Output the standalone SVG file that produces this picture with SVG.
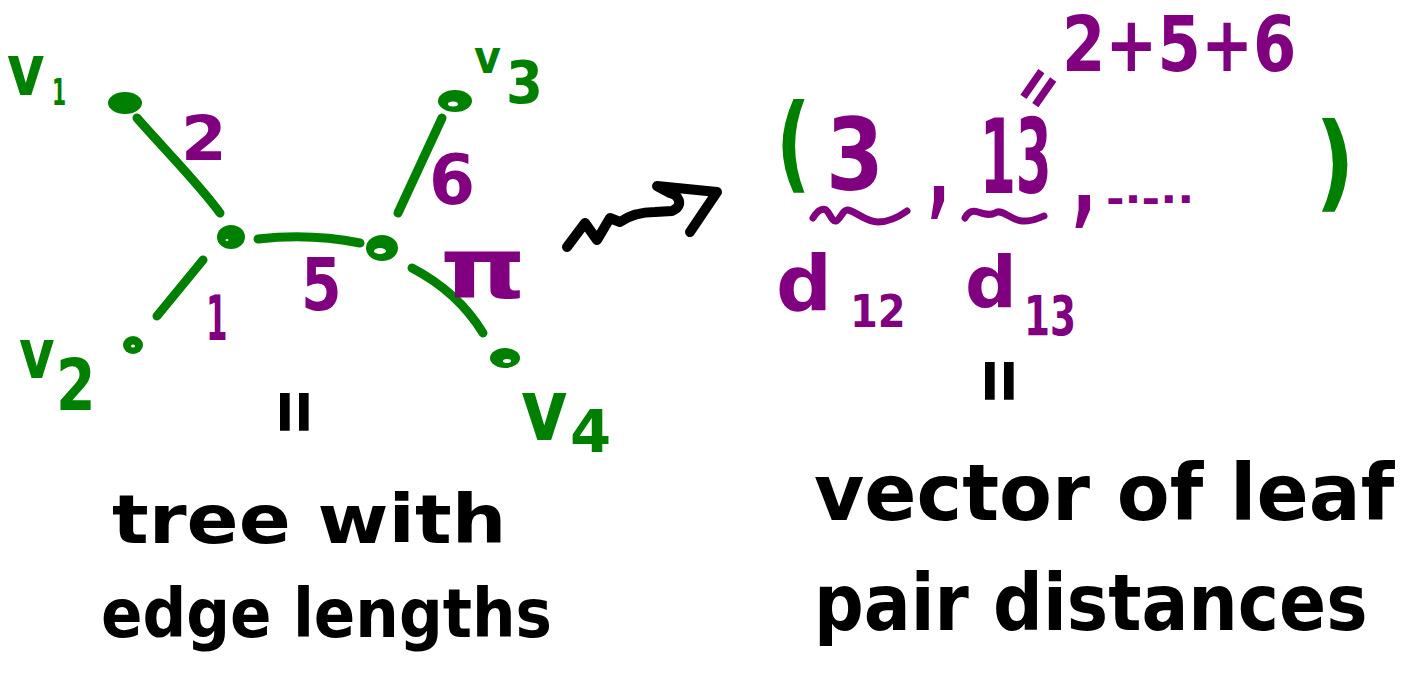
<svg xmlns="http://www.w3.org/2000/svg" width="1412" height="673" viewBox="0 0 1412 673">
<style>
text{font-family:"DejaVu Sans","Liberation Sans",sans-serif;font-weight:bold}
.g{fill:#008000}
.p{fill:#800080}
.k{fill:#000}
.hole{fill:#fff}
.edge{stroke:#008000;stroke-width:9;stroke-linecap:round;fill:none}
.pl{stroke:#800080;stroke-width:7;stroke-linecap:round;stroke-linejoin:round;fill:none}
.bl{stroke:#000;stroke-width:10;stroke-linecap:round;stroke-linejoin:round;fill:none}
</style>
<rect width="1412" height="673" fill="#fff"/>
<g id="connectors">
<path class="edge" d="M137,118 C165,150 200,185 220,213"/>
<path class="edge" d="M203,260 L157,316"/>
<path class="edge" d="M258,239 Q310,233 360,243"/>
<path class="edge" d="M442,118 L398,213"/>
<path class="edge" d="M412,268 Q458,292 483,333"/>
</g>
<g id="v1">
<ellipse class="g" cx="125" cy="103" rx="17" ry="11"/>
<text class="g" font-size="72" transform="translate(7,95) scale(0.8,1)">v</text>
<text class="g" font-size="37" transform="translate(52,105) scale(0.55,1)">1</text>
</g>
<g id="v2">
<ellipse class="g" cx="133" cy="345" rx="10" ry="9"/>
<ellipse class="hole" cx="133" cy="346" rx="2" ry="1.5"/>
<text class="g" font-size="70" transform="translate(19,378) scale(0.78,1)">v</text>
<text class="g" font-size="71" transform="translate(56,410) scale(0.8,1)">2</text>
</g>
<g id="v3">
<ellipse class="g" cx="455" cy="101" rx="17" ry="11"/>
<ellipse class="hole" cx="453" cy="104" rx="5" ry="2.5"/>
<text class="g" font-size="47" transform="translate(474,73) scale(0.88,1)">v</text>
<text class="g" font-size="59" transform="translate(506,103) scale(0.9,1)">3</text>
</g>
<g id="v4">
<ellipse class="g" cx="505" cy="358" rx="15" ry="10"/>
<ellipse class="hole" cx="507" cy="361" rx="4" ry="2"/>
<text class="g" font-size="85" transform="translate(521,440) scale(0.84,1)">v</text>
<text class="g" font-size="58" transform="translate(570,452) scale(1.02,1)">4</text>
</g>
<g id="nodeA">
<ellipse class="g" cx="231" cy="237" rx="14" ry="12"/>
<ellipse class="hole" cx="227" cy="240" rx="1.5" ry="1"/>
</g>
<g id="nodeB">
<ellipse class="g" cx="382" cy="248" rx="16" ry="13"/>
<ellipse class="hole" cx="380" cy="251" rx="6" ry="3"/>
</g>
<g id="edge-labels">
<text class="p" font-size="62" transform="translate(181,160) scale(1.06,1)">2</text>
<text class="p" font-size="62" transform="translate(206,340) scale(0.5,1)">1</text>
<text class="p" font-size="73" transform="translate(301,310) scale(0.8,1)">5</text>
<text class="p" font-size="69" transform="translate(429,204) scale(0.96,1)">6</text>
<text class="p" font-size="84" transform="translate(440,298) scale(1.3,1)">π</text>
</g>
<g id="eq-left">
<text class="k" font-size="60" text-anchor="middle" y="19" transform="translate(295,412) rotate(90) scale(1,1.4)">=</text>
</g>
<g id="arrow">
<path class="bl" d="M567,247 L585,223 L597,240 L610,218 L620,222 C630,215 640,212 655,212 L672,211 C685,205 678,195 670,193 L657,186 L717,192 L690,232"/>
</g>
<g id="vector">
<text class="g" font-size="105" transform="translate(776,179) scale(0.72,1)">(</text>
<text class="p" font-size="99" transform="translate(826,190) scale(0.84,1)">3</text>
<text class="p" font-size="100" transform="translate(928,205) scale(0.58,1)">,</text>
<text class="p" font-size="103" transform="translate(980,193) scale(0.5,1)">13</text>
<text class="p" font-size="100" transform="translate(1072,214) scale(0.65,1)">,</text>
<text class="p" font-size="40" transform="translate(1106,213) scale(1.12,1)">-·-··</text>
<text class="g" font-size="105" transform="translate(1315,198) scale(0.83,1)">)</text>
<path class="pl" d="M813,218 C818,210 822,208 826,210 C830,213 832,222 836,221 C840,220 843,209 848,210 C855,211 866,222 878,222 C890,222 900,216 907,211"/>
<path class="pl" d="M965,218 C968,212 972,210 978,212 C984,214 990,216 995,213 C1002,208 1010,220 1022,221 C1032,222 1038,218 1044,216"/>
<text class="p" font-size="50" text-anchor="middle" y="16" transform="translate(1038,88) rotate(-55) scale(1,1.3)">=</text>
<text class="p" font-size="76" transform="translate(1062,71) scale(0.82,1)">2+5+6</text>
</g>
<g id="d12">
<text class="p" font-size="76" transform="translate(776,310) scale(1.03,1)">d</text>
<text class="p" font-size="44" transform="translate(850,327) scale(0.91,1)">12</text>
</g>
<g id="d13">
<text class="p" font-size="71" transform="translate(965,307) scale(1.02,1)">d</text>
<text class="p" font-size="55" transform="translate(1024,335) scale(0.68,1)">13</text>
</g>
<g id="eq-right">
<text class="k" font-size="60" text-anchor="middle" y="19" transform="translate(1000,381) rotate(90) scale(1,1.4)">=</text>
</g>
<g id="caption-left">
<text class="k" font-size="68" transform="translate(112,543) scale(1.13,1)">tree with</text>
<text class="k" font-size="68" transform="translate(101,637) scale(0.9,1)">edge lengths</text>
</g>
<g id="caption-right">
<text class="k" font-size="78" transform="translate(814,520) scale(0.988,1)">vector of leaf</text>
<text class="k" font-size="78" transform="translate(814,630) scale(0.892,1)">pair distances</text>
</g>
</svg>
